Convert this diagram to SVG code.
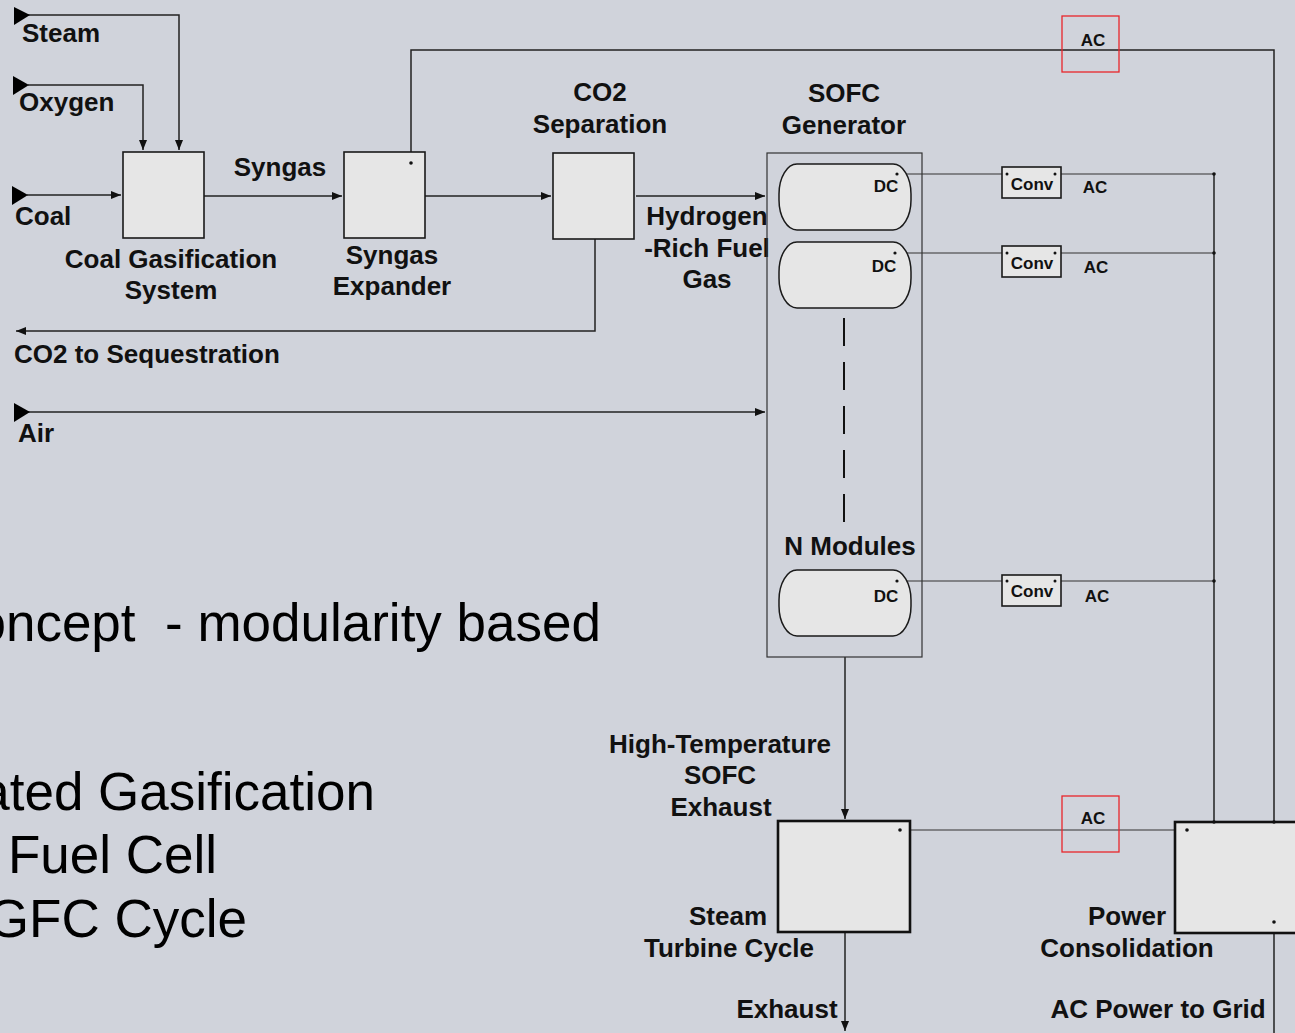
<svg xmlns="http://www.w3.org/2000/svg" width="1295" height="1033" viewBox="0 0 1295 1033">
<defs>
<marker id="arr" markerUnits="userSpaceOnUse" markerWidth="12" markerHeight="10" refX="10" refY="4" orient="auto"><path d="M0,0 L10,4 L0,8 z" fill="#111"/></marker>
<style>
.lbl{font-family:"Liberation Sans",Arial,sans-serif;font-weight:bold;font-size:26px;fill:#111}
.sm{font-family:"Liberation Sans",Arial,sans-serif;font-weight:bold;font-size:17px;fill:#111}
.bg{font-family:"Liberation Sans",Arial,sans-serif;font-size:53px;fill:#000;white-space:pre}
.box{fill:#E6E6E6;stroke:#1a1a1a;stroke-width:1.6}
.bbox{fill:#E6E6E6;stroke:#111;stroke-width:2.6}
.mod{fill:#E6E6E6;stroke:#1a1a1a;stroke-width:1.5}
.ln{fill:none;stroke:#222;stroke-width:1.5}
.thin{fill:none;stroke:#333;stroke-width:1.2}
.red{fill:none;stroke:#E8262B;stroke-width:1.3}
.dot{fill:#111}
.tri{fill:#000}
</style>
</defs>
<rect width="1295" height="1033" fill="#D0D3DB"/>

<g id="background-text">
<text class="bg" x="601" y="641" text-anchor="end">oncept  - modularity based</text>
<text class="bg" x="375" y="810" text-anchor="end">ated Gasification</text>
<text class="bg" x="8" y="873">Fuel Cell</text>
<text class="bg" x="247" y="937" text-anchor="end">GFC Cycle</text>
</g>

<g id="connectors">
<path class="ln" d="M28,15 H179 V150" marker-end="url(#arr)"/>
<path class="ln" d="M28,85 H143 V150" marker-end="url(#arr)"/>
<path class="ln" d="M27,195 H121" marker-end="url(#arr)"/>
<path class="ln" d="M204,196 H342" marker-end="url(#arr)"/>
<path class="ln" d="M425,196 H551" marker-end="url(#arr)"/>
<path class="ln" d="M636,196 H765" marker-end="url(#arr)"/>
<path class="ln" d="M595,239 V331 H16" marker-end="url(#arr)"/>
<path class="ln" d="M28,412 H765" marker-end="url(#arr)"/>
<path class="ln" d="M411,163 V50 H1274 V822"/>
<path class="thin" d="M897,174 H1007 M1055,174 H1214"/>
<path class="thin" d="M895,253 H1007 M1055,253 H1214"/>
<path class="thin" d="M897,581 H1007 M1055,581 H1214"/>
<path class="ln" d="M1214,174 V822"/>
<path class="ln" d="M845,657 V819" marker-end="url(#arr)"/>
<path class="thin" d="M900,830 H1187"/>
<path class="ln" d="M845,933 V1031" marker-end="url(#arr)"/>
<path class="ln" d="M1274,922 V1033"/>
<path d="M844,318 V526" fill="none" stroke="#111" stroke-width="2" stroke-dasharray="28,16"/>
</g>

<g id="inputs">
<path class="tri" d="M14,7 L30,15 L14,25 z"/>
<path class="tri" d="M13,76 L29,85 L13,95 z"/>
<path class="tri" d="M12,186 L28,195 L12,205 z"/>
<path class="tri" d="M14,403 L30,412 L14,422 z"/>
<text class="lbl" x="22" y="42">Steam</text>
<text class="lbl" x="19" y="111">Oxygen</text>
<text class="lbl" x="15" y="225">Coal</text>
<text class="lbl" x="18" y="442">Air</text>
<text class="lbl" x="280" y="176" text-anchor="middle">Syngas</text>
<text class="lbl" x="14" y="363">CO2 to Sequestration</text>
<text class="lbl" x="707" y="225" text-anchor="middle">Hydrogen</text>
<text class="lbl" x="707" y="257" text-anchor="middle">-Rich Fuel</text>
<text class="lbl" x="707" y="288" text-anchor="middle">Gas</text>
</g>

<g id="coal-gasification">
<rect class="box" x="123" y="152" width="81" height="86"/>
<text class="lbl" x="171" y="268" text-anchor="middle">Coal Gasification</text>
<text class="lbl" x="171" y="299" text-anchor="middle">System</text>
</g>

<g id="syngas-expander">
<rect class="box" x="344" y="152" width="81" height="86"/>
<circle class="dot" cx="411" cy="163" r="1.8"/>
<text class="lbl" x="392" y="264" text-anchor="middle">Syngas</text>
<text class="lbl" x="392" y="295" text-anchor="middle">Expander</text>
</g>

<g id="co2-separation">
<rect class="box" x="553" y="153" width="81" height="86"/>
<text class="lbl" x="600" y="101" text-anchor="middle">CO2</text>
<text class="lbl" x="600" y="133" text-anchor="middle">Separation</text>
</g>

<g id="sofc-generator">
<rect x="767" y="153" width="155" height="504" fill="none" stroke="#333" stroke-width="1.2"/>
<text class="lbl" x="844" y="102" text-anchor="middle">SOFC</text>
<text class="lbl" x="844" y="134" text-anchor="middle">Generator</text>
<text class="lbl" x="850" y="555" text-anchor="middle">N Modules</text>
</g>

<g id="module-1">
<rect class="mod" x="779" y="164" width="132" height="66" rx="18" ry="30"/>
<text class="sm" x="886" y="192" text-anchor="middle">DC</text>
<circle class="dot" cx="897" cy="174" r="1.6"/>
</g>
<g id="module-2">
<rect class="mod" x="779" y="242" width="132" height="66" rx="18" ry="30"/>
<text class="sm" x="884" y="272" text-anchor="middle">DC</text>
<circle class="dot" cx="895" cy="253" r="1.6"/>
</g>
<g id="module-n">
<rect class="mod" x="779" y="570" width="132" height="66" rx="18" ry="30"/>
<text class="sm" x="886" y="602" text-anchor="middle">DC</text>
<circle class="dot" cx="897" cy="581" r="1.6"/>
</g>

<g id="conv-1">
<rect class="box" x="1002" y="167" width="59" height="31"/>
<circle class="dot" cx="1007" cy="174" r="1.5"/><circle class="dot" cx="1055" cy="174" r="1.5"/>
<text class="sm" x="1032" y="190" text-anchor="middle">Conv</text>
<text class="sm" x="1095" y="193" text-anchor="middle">AC</text>
<circle class="dot" cx="1214" cy="174" r="1.8"/>
</g>
<g id="conv-2">
<rect class="box" x="1002" y="246" width="59" height="31"/>
<circle class="dot" cx="1007" cy="253" r="1.5"/><circle class="dot" cx="1055" cy="253" r="1.5"/>
<text class="sm" x="1032" y="269" text-anchor="middle">Conv</text>
<text class="sm" x="1096" y="273" text-anchor="middle">AC</text>
<circle class="dot" cx="1214" cy="253" r="1.8"/>
</g>
<g id="conv-n">
<rect class="box" x="1002" y="575" width="59" height="31"/>
<circle class="dot" cx="1007" cy="581" r="1.5"/><circle class="dot" cx="1055" cy="581" r="1.5"/>
<text class="sm" x="1032" y="597" text-anchor="middle">Conv</text>
<text class="sm" x="1097" y="602" text-anchor="middle">AC</text>
<circle class="dot" cx="1214" cy="581" r="1.8"/>
</g>

<g id="ac-top">
<rect class="red" x="1062" y="16" width="57" height="56"/>
<text class="sm" x="1093" y="46" text-anchor="middle">AC</text>
</g>

<g id="exhaust-labels">
<text class="lbl" x="720" y="753" text-anchor="middle">High-Temperature</text>
<text class="lbl" x="720" y="784" text-anchor="middle">SOFC</text>
<text class="lbl" x="721" y="816" text-anchor="middle">Exhaust</text>
</g>

<g id="steam-turbine">
<rect class="bbox" x="778" y="821" width="132" height="111"/>
<circle class="dot" cx="900" cy="830" r="1.8"/>
<text class="lbl" x="728" y="925" text-anchor="middle">Steam</text>
<text class="lbl" x="729" y="957" text-anchor="middle">Turbine Cycle</text>
<text class="lbl" x="787" y="1018" text-anchor="middle">Exhaust</text>
</g>

<g id="ac-bottom">
<rect class="red" x="1062" y="796" width="57" height="56"/>
<text class="sm" x="1093" y="824" text-anchor="middle">AC</text>
</g>

<g id="power-consolidation">
<rect class="bbox" x="1175" y="822" width="135" height="111"/>
<circle class="dot" cx="1187" cy="830" r="1.8"/>
<circle class="dot" cx="1274" cy="922" r="1.8"/>
<circle class="dot" cx="1214" cy="822" r="1.8"/>
<circle class="dot" cx="1274" cy="822" r="1.8"/>
<text class="lbl" x="1127" y="925" text-anchor="middle">Power</text>
<text class="lbl" x="1127" y="957" text-anchor="middle">Consolidation</text>
<text class="lbl" x="1158" y="1018" text-anchor="middle">AC Power to Grid</text>
</g>
</svg>
